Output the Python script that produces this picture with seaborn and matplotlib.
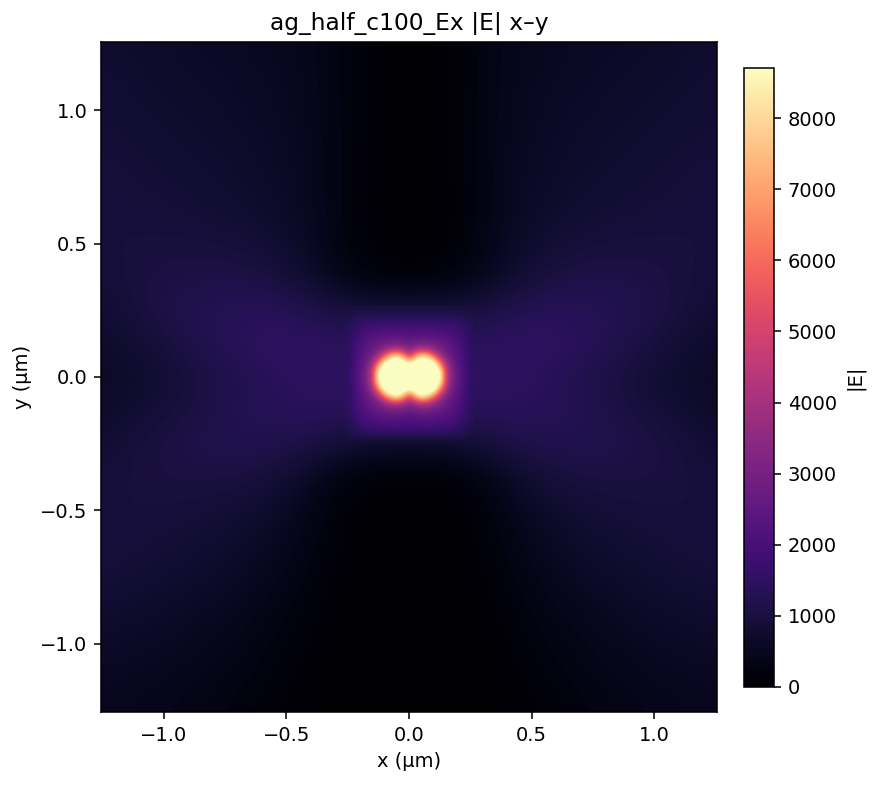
import numpy as np
import seaborn as sns
from matplotlib import pyplot as plt

# |E|, outer field on a 0.125 um grid (top row is y = 1.25)
x_outer = np.arange(21) * 0.125 - 1.25
y_outer = 1.25 - np.arange(21) * 0.125
e_outer = [
    [760, 730, 680, 640, 600, 560, 500, 420, 210, 70, 25, 70, 210, 420, 500, 560, 600, 640, 680, 730, 760],
    [800, 770, 720, 680, 640, 590, 530, 430, 210, 70, 25, 70, 210, 430, 530, 590, 640, 680, 720, 770, 800],
    [840, 800, 760, 720, 680, 630, 560, 440, 220, 70, 25, 70, 220, 440, 560, 630, 680, 720, 760, 800, 840],
    [880, 840, 800, 770, 720, 670, 590, 460, 220, 60, 20, 60, 220, 460, 590, 670, 720, 770, 800, 840, 880],
    [920, 890, 850, 810, 770, 700, 620, 480, 210, 60, 20, 60, 210, 480, 620, 700, 770, 810, 850, 890, 920],
    [950, 930, 900, 860, 820, 760, 660, 500, 200, 50, 20, 50, 200, 500, 660, 760, 820, 860, 900, 930, 950],
    [950, 960, 970, 960, 940, 870, 740, 530, 220, 70, 30, 70, 220, 530, 740, 870, 940, 960, 970, 960, 950],
    [880, 980, 1060, 1100, 1110, 1060, 920, 660, 330, 180, 150, 180, 330, 660, 920, 1060, 1110, 1100, 1060, 980, 880],
    [800, 950, 1120, 1240, 1310, 1340, 1290, 1130, 1000, 950, 950, 950, 1000, 1130, 1290, 1340, 1310, 1240, 1120, 950, 800],
    [690, 800, 960, 1150, 1320, 1440, 1520, 1500, 1420, 1450, 1500, 1450, 1420, 1500, 1520, 1440, 1320, 1150, 960, 800, 690],
    [640, 700, 810, 970, 1130, 1290, 1400, 1450, 1450, 1600, 1800, 1600, 1450, 1450, 1400, 1290, 1130, 970, 810, 700, 640],
    [690, 780, 900, 1040, 1190, 1300, 1370, 1400, 1400, 1450, 1500, 1450, 1400, 1400, 1370, 1300, 1190, 1040, 900, 780, 690],
    [800, 940, 1060, 1150, 1200, 1210, 1150, 1030, 850, 760, 700, 760, 850, 1030, 1150, 1210, 1200, 1150, 1060, 940, 800],
    [900, 970, 1020, 1040, 1030, 970, 830, 520, 200, 100, 80, 100, 200, 520, 830, 970, 1030, 1040, 1020, 970, 900],
    [940, 950, 940, 910, 860, 770, 610, 340, 90, 20, 10, 20, 90, 340, 610, 770, 860, 910, 940, 950, 940],
    [950, 920, 870, 820, 750, 640, 480, 260, 70, 15, 5, 15, 70, 260, 480, 640, 750, 820, 870, 920, 950],
    [880, 840, 790, 720, 650, 530, 380, 190, 50, 10, 5, 10, 50, 190, 380, 530, 650, 720, 790, 840, 880],
    [770, 730, 680, 610, 530, 420, 280, 130, 35, 8, 3, 8, 35, 130, 280, 420, 530, 610, 680, 730, 770],
    [660, 620, 580, 510, 430, 330, 210, 95, 25, 5, 2, 5, 25, 95, 210, 330, 430, 510, 580, 620, 660],
    [560, 530, 490, 420, 340, 250, 150, 60, 12, 3, 1, 3, 12, 60, 150, 250, 340, 420, 490, 530, 560],
    [490, 460, 410, 350, 270, 190, 110, 35, 6, 2, 0, 2, 6, 35, 110, 190, 270, 350, 410, 460, 490],
]

# finer read of the bright centre, 0.025 um grid, +-0.25 um
half_width_center = 0.25
step_center = 0.025
e_center = [
    [1000, 980, 960, 950, 950, 950, 950, 950, 950, 950, 950, 950, 950, 950, 950, 950, 950, 950, 960, 980, 1000],
    [1120, 1200, 1250, 1290, 1300, 1300, 1300, 1300, 1300, 1300, 1300, 1300, 1300, 1300, 1300, 1300, 1300, 1290, 1250, 1200, 1120],
    [1250, 1400, 1550, 1620, 1650, 1680, 1700, 1720, 1720, 1700, 1680, 1700, 1720, 1720, 1700, 1680, 1650, 1620, 1550, 1400, 1250],
    [1320, 1550, 1750, 1880, 1950, 2000, 2050, 2100, 2100, 2050, 2000, 2050, 2100, 2100, 2050, 2000, 1950, 1880, 1750, 1550, 1320],
    [1360, 1650, 1900, 2100, 2200, 2300, 2350, 2400, 2400, 2350, 2300, 2350, 2400, 2400, 2350, 2300, 2200, 2100, 1900, 1650, 1360],
    [1400, 1750, 2050, 2300, 2480, 2650, 2800, 2950, 3000, 2850, 2750, 2850, 3000, 2950, 2800, 2650, 2480, 2300, 2050, 1750, 1400],
    [1420, 1800, 2150, 2420, 2700, 3100, 3600, 4100, 4300, 4000, 3400, 4000, 4300, 4100, 3600, 3100, 2700, 2420, 2150, 1800, 1420],
    [1430, 1850, 2250, 2620, 3100, 4100, 5900, 8000, 8700, 7200, 5000, 7200, 8700, 8000, 5900, 4100, 3100, 2620, 2250, 1850, 1430],
    [1450, 1900, 2350, 2850, 3900, 6200, 9500, 9500, 9500, 9500, 8700, 9500, 9500, 9500, 9500, 6200, 3900, 2850, 2350, 1900, 1450],
    [1480, 1950, 2450, 3050, 4500, 8700, 9500, 9500, 9500, 9500, 9500, 9500, 9500, 9500, 9500, 8700, 4500, 3050, 2450, 1950, 1480],
    [1500, 2000, 2500, 3150, 4700, 9200, 9500, 9500, 9500, 9500, 9500, 9500, 9500, 9500, 9500, 9200, 4700, 3150, 2500, 2000, 1500],
    [1480, 1950, 2450, 3050, 4500, 8700, 9500, 9500, 9500, 9500, 9500, 9500, 9500, 9500, 9500, 8700, 4500, 3050, 2450, 1950, 1480],
    [1450, 1900, 2350, 2850, 3900, 6200, 9500, 9500, 9500, 9500, 8700, 9500, 9500, 9500, 9500, 6200, 3900, 2850, 2350, 1900, 1450],
    [1430, 1850, 2250, 2620, 3100, 4100, 5900, 8000, 8700, 7200, 5000, 7200, 8700, 8000, 5900, 4100, 3100, 2620, 2250, 1850, 1430],
    [1420, 1800, 2150, 2420, 2700, 3100, 3600, 4100, 4300, 4000, 3400, 4000, 4300, 4100, 3600, 3100, 2700, 2420, 2150, 1800, 1420],
    [1380, 1750, 2050, 2300, 2480, 2650, 2800, 2950, 3000, 2850, 2750, 2850, 3000, 2950, 2800, 2650, 2480, 2300, 2050, 1750, 1380],
    [1330, 1600, 1900, 2100, 2200, 2300, 2350, 2400, 2400, 2350, 2300, 2350, 2400, 2400, 2350, 2300, 2200, 2100, 1900, 1600, 1330],
    [1250, 1450, 1700, 1880, 1950, 2000, 2050, 2100, 2100, 2050, 2000, 2050, 2100, 2100, 2050, 2000, 1950, 1880, 1700, 1450, 1250],
    [1150, 1300, 1450, 1580, 1620, 1650, 1680, 1700, 1700, 1680, 1650, 1680, 1700, 1700, 1680, 1650, 1620, 1580, 1450, 1300, 1150],
    [1000, 1080, 1120, 1130, 1140, 1140, 1140, 1140, 1140, 1140, 1140, 1140, 1140, 1140, 1140, 1140, 1140, 1130, 1120, 1080, 1000],
    [850, 780, 730, 710, 700, 700, 700, 700, 700, 700, 700, 700, 700, 700, 700, 700, 700, 710, 730, 780, 850],
]

e_max = 8705
x_limit = 1.255
y_limit = 1.256
x_ticks = [-1.0, -0.5, 0.0, 0.5, 1.0]
y_ticks = [1.0, 0.5, 0.0, -0.5, -1.0]
cbar_ticks = [0, 1000, 2000, 3000, 4000, 5000, 6000, 7000, 8000]


def x_cell(x):
    return 0.5 + (x - x_outer[0]) / 0.125


def y_cell(y):
    return 0.5 + (y_outer[0] - y) / 0.125


def tick_text(v):
    return f'{v:.1f}'.replace('-', '\u2212')


W, H = 878, 785
DPI = 140
fig = plt.figure(figsize=(W / DPI, H / DPI), dpi=DPI)
ax = fig.add_axes([101 / W, 1 - 712 / H, 616 / W, 670 / H])
cax = fig.add_axes([744 / W, 1 - 687 / H, 30 / W, 619 / H])

sns.heatmap(np.array(e_outer), ax=ax, cbar_ax=cax, cmap='magma', vmin=0, vmax=e_max,
            xticklabels=False, yticklabels=False, cbar_kws={'label': '|E|'})
mesh = ax.collections[0]

# smooth rendering of both grids, same colour scale as the heatmap
ax.imshow(np.array(e_outer), cmap=mesh.get_cmap(), norm=mesh.norm, aspect='auto',
          interpolation='bicubic', extent=(0, 21, 21, 0), zorder=2)
half = half_width_center + step_center / 2
ax.imshow(np.array(e_center), cmap=mesh.get_cmap(), norm=mesh.norm, aspect='auto',
          interpolation='bicubic', zorder=3,
          extent=(x_cell(-half), x_cell(half), y_cell(-half), y_cell(half)))

ax.set_xlim(x_cell(-x_limit), x_cell(x_limit))
ax.set_ylim(y_cell(-y_limit), y_cell(y_limit))
ax.set_xticks([x_cell(v) for v in x_ticks], [tick_text(v) for v in x_ticks])
ax.set_yticks([y_cell(v) for v in y_ticks], [tick_text(v) for v in y_ticks], rotation=0)
ax.tick_params(length=3.5, width=0.8, labelsize=10)
ax.set_xlabel('x (µm)')
ax.set_ylabel('y (µm)')
ax.set_title('ag_half_c100_Ex |E| x–y', fontsize=12)
for spine in ax.spines.values():
    spine.set_visible(True)
    spine.set_linewidth(0.8)
    spine.set_zorder(5)

cbar = mesh.colorbar
cbar.set_ticks(cbar_ticks)
cbar.outline.set_visible(True)
cbar.outline.set_linewidth(0.8)
cbar.outline.set_edgecolor('black')
cax.tick_params(length=3.5, width=0.8, labelsize=10)

fig.savefig('out.png', dpi=DPI)
